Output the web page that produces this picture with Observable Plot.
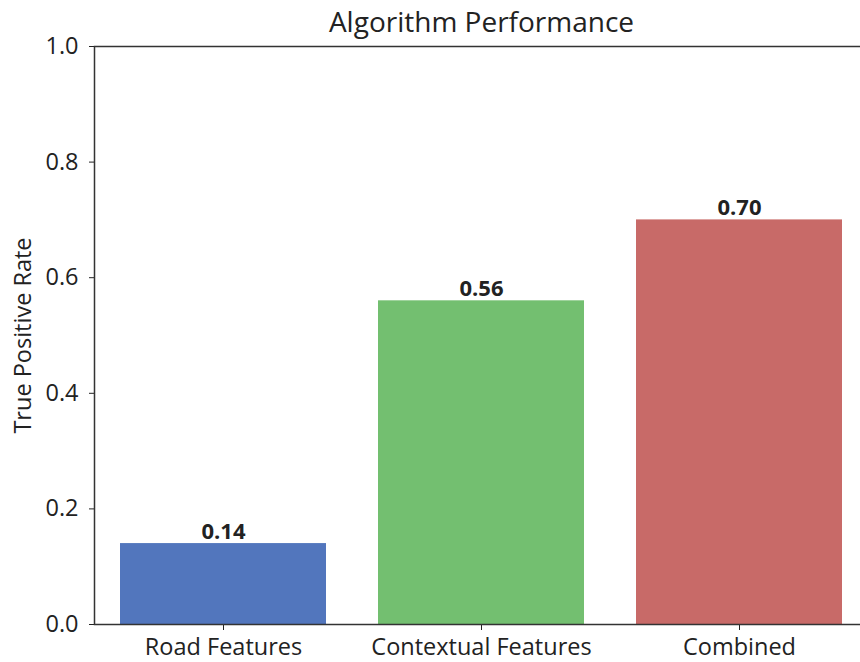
<!DOCTYPE html>
<html>
<head>
<meta charset="utf-8">
<script src="https://cdn.jsdelivr.net/npm/d3@7"></script>
<script src="https://cdn.jsdelivr.net/npm/@observablehq/plot@0.6"></script>
<style>
  html, body { margin: 0; padding: 0; background: #fff; overflow: hidden; width: 860px; height: 662px; }
  #wrap { position: relative; width: 860px; height: 662px; overflow: hidden; }
  #chart svg { max-width: none !important; width: 880px; height: 662px; display: block; }
  #title { position: absolute; left: 94px; width: 775px; top: 7px; text-align: center;
           font-family: "Open Sans", sans-serif; font-size: 28px; color: #222; line-height: 1; }
</style>
</head>
<body>
<div id="wrap">
  <div id="chart"></div>
  <div id="title">Algorithm Performance</div>
</div>
<script>
const categories = ["Road Features", "Contextual Features", "Combined"];
const values = [0.14, 0.56, 0.70];
const labels = ["0.14", "0.56", "0.70"];
const barColors = ["#5276bd", "#73bf70", "#c86a68"];
const yTicks = [0.0, 0.2, 0.4, 0.6, 0.8, 1.0];

const data = categories.map((c, i) => ({category: c, value: values[i], label: labels[i]}));

const chart = Plot.plot({
  width: 880,
  height: 662,
  marginTop: 46,
  marginBottom: 38,
  marginLeft: 94,
  marginRight: 11,
  style: {fontFamily: "Open Sans, sans-serif", fontSize: "23.5px", color: "#222", background: "#fff", maxWidth: "none"},
  x: {domain: categories, paddingInner: 0.2, paddingOuter: 0.1, label: null, tickSize: 6, tickPadding: 8},
  y: {domain: [0, 1], ticks: yTicks, tickFormat: d3.format(".1f"), label: "True Positive Rate",
      labelAnchor: "center", labelArrow: "none", labelOffset: 80, tickSize: 5, tickPadding: 11},
  color: {domain: categories, range: barColors},
  marks: [
    Plot.barY(data, {x: "category", y: "value", fill: "category"}),
    Plot.text(data, {x: "category", y: "value", text: "label", lineAnchor: "bottom", dy: -5,
      fontWeight: "bold", fontSize: 22, fill: "#222"}),
    Plot.frame({stroke: "#333", strokeWidth: 1.5})
  ]
});
document.getElementById("chart").appendChild(chart);
</script>
</body>
</html>
